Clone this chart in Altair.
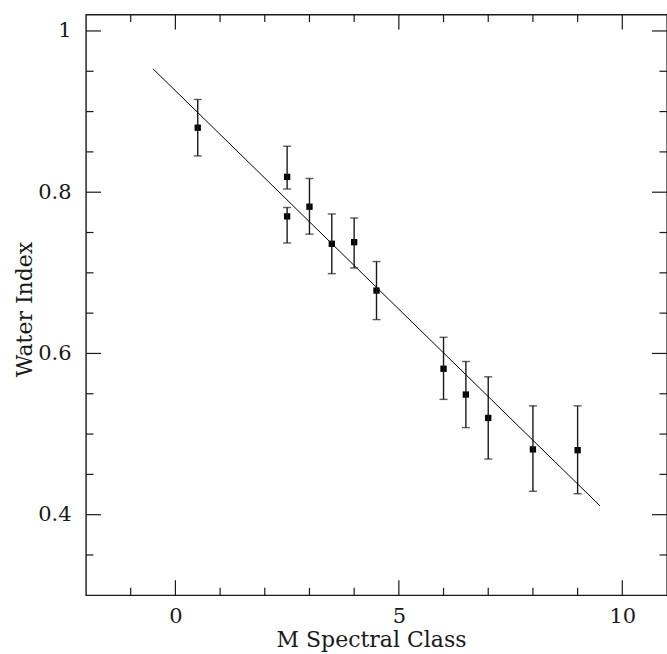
import altair as alt
import pandas as pd

# ---- data ----
spectral_class = [0.5, 2.5, 2.5, 3.0, 3.5, 4.0, 4.5, 6.0, 6.5, 7.0, 8.0, 9.0]
water_index = [0.880, 0.819, 0.770, 0.782, 0.736, 0.738, 0.678, 0.581, 0.549, 0.520, 0.481, 0.480]
err_low = [0.845, 0.804, 0.737, 0.748, 0.699, 0.706, 0.642, 0.543, 0.508, 0.469, 0.429, 0.426]
err_high = [0.915, 0.857, 0.781, 0.817, 0.773, 0.768, 0.714, 0.620, 0.590, 0.571, 0.535, 0.535]

fit_x = [-0.5, 9.5]
fit_y = [0.953, 0.411]

x_major = [0, 5, 10]
x_minor = [-1, 1, 2, 3, 4, 6, 7, 8, 9]
y_major = [0.4, 0.6, 0.8, 1.0]
y_minor = [0.35, 0.45, 0.5, 0.55, 0.65, 0.7, 0.75, 0.85, 0.9, 0.95]

X_DOMAIN = [-2, 11]
Y_DOMAIN = [0.3, 1.0203]

W = 581
H = 580.7
FONT = "DejaVu Serif"
INK = "#1a1a1a"

xs = alt.Scale(domain=X_DOMAIN, nice=False, zero=False)
ys = alt.Scale(domain=Y_DOMAIN, nice=False, zero=False)

X_AX = alt.Axis(
    values=x_major, ticks=False, tickSize=0, domain=False, grid=False,
    labelFont=FONT, labelFontSize=21, labelColor=INK, labelPadding=10,
    title="M Spectral Class", titleFont=FONT, titleFontSize=22,
    titleFontWeight="normal", titleColor=INK, titleX=285, titleY=51.7,
    titleAlign="center", titleBaseline="alphabetic")
Y_AX = alt.Axis(
    values=y_major, format="~g", ticks=False, tickSize=0, domain=False, grid=False,
    labelFont=FONT, labelFontSize=21, labelColor=INK, labelPadding=15,
    title="Water Index", titleFont=FONT, titleFontSize=22,
    titleFontWeight="normal", titleColor=INK, titleAngle=270,
    titleX=-54.3, titleY=294.4, titleAlign="center", titleBaseline="alphabetic")

pts = pd.DataFrame({"x": spectral_class, "y": water_index, "lo": err_low, "hi": err_high})
fit = pd.DataFrame({"x": fit_x, "y": fit_y})

XE = alt.X("x:Q", scale=xs, axis=X_AX, title="M Spectral Class")

points = alt.Chart(pts).mark_square(size=40, color="black", opacity=1, filled=True).encode(
    x=XE,
    y=alt.Y("y:Q", scale=ys, axis=Y_AX, title="Water Index"),
)

bars = alt.Chart(pts).mark_rule(color=INK, strokeWidth=1.4).encode(
    x=XE,
    y=alt.Y("lo:Q", scale=ys, axis=Y_AX, title="Water Index"),
    y2="hi:Q",
)
cap_lo = alt.Chart(pts).mark_tick(color=INK, orient="horizontal", size=8, thickness=1.4).encode(
    x=XE,
    y=alt.Y("lo:Q", scale=ys, axis=Y_AX, title="Water Index"),
)
cap_hi = alt.Chart(pts).mark_tick(color=INK, orient="horizontal", size=8, thickness=1.4).encode(
    x=XE,
    y=alt.Y("hi:Q", scale=ys, axis=Y_AX, title="Water Index"),
)

line = alt.Chart(fit).mark_line(color="black", strokeWidth=1).encode(
    x=XE,
    y=alt.Y("y:Q", scale=ys, axis=Y_AX, title="Water Index"),
)


def xtick_layer(vals, length, top):
    df = pd.DataFrame({"x": vals})
    if top:
        yy, yy2 = alt.value(0), alt.value(length)
    else:
        yy, yy2 = alt.value(H), alt.value(H - length)
    return alt.Chart(df).mark_rule(color=INK, strokeWidth=1.2).encode(
        x=XE, y=yy, y2=yy2)


def ytick_layer(vals, length, right):
    df = pd.DataFrame({"y": vals})
    if right:
        xx, xx2 = alt.value(W), alt.value(W - length)
    else:
        xx, xx2 = alt.value(0), alt.value(length)
    return alt.Chart(df).mark_rule(color=INK, strokeWidth=1.2).encode(
        y=alt.Y("y:Q", scale=ys, axis=Y_AX, title="Water Index"), x=xx, x2=xx2)


ticks = [
    xtick_layer(x_major, 15, False), xtick_layer(x_minor, 7.5, False),
    xtick_layer(x_major, 15, True), xtick_layer(x_minor, 7.5, True),
    ytick_layer(y_major, 15, False), ytick_layer(y_minor, 7.5, False),
    ytick_layer(y_major, 15, True), ytick_layer(y_minor, 7.5, True),
]

chart = alt.layer(points, bars, cap_lo, cap_hi, line, *ticks).properties(
    width=W, height=H,
    padding={"left": 86, "top": 14.6, "right": 0, "bottom": 58},
    autosize=alt.AutoSizeParams(type="none"),
    background="white",
).configure_view(stroke=INK, strokeWidth=1.4)

chart.save("out.html", embed_options={"renderer": "svg", "actions": False})
